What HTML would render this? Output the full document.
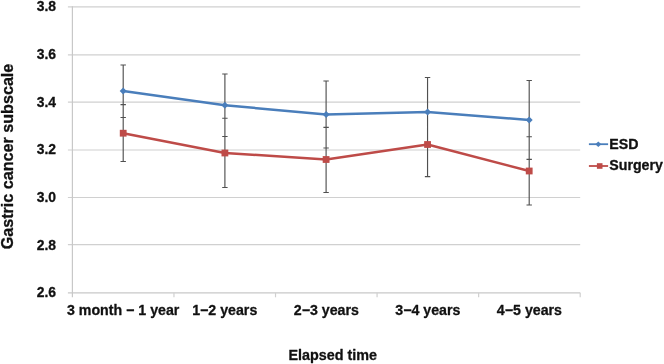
<!DOCTYPE html><html><head><meta charset="utf-8"><title>chart</title><style>html,body{margin:0;padding:0;background:#fff}svg{display:block}text{font-family:"Liberation Sans",Arial,sans-serif;font-weight:bold;fill:#111;stroke:#111;stroke-width:0.3px;stroke-linejoin:round}</style></head><body>
<svg width="664" height="364" viewBox="0 0 664 364">
<rect width="664" height="364" fill="#fff"/>
<g>
<g stroke="#d0d0d0" stroke-width="1.2" fill="none">
<line x1="67.9" y1="6.85" x2="580.2" y2="6.85"/>
<line x1="67.9" y1="54.9" x2="580.2" y2="54.9"/>
<line x1="67.9" y1="102.2" x2="580.2" y2="102.2"/>
<line x1="67.9" y1="150.0" x2="580.2" y2="150.0"/>
<line x1="67.9" y1="197.5" x2="580.2" y2="197.5"/>
<line x1="67.9" y1="244.7" x2="580.2" y2="244.7"/>
<line x1="67.9" y1="292.8" x2="580.2" y2="292.8" stroke="#c8c8c8"/>
<line x1="72.4" y1="6.2" x2="72.4" y2="297.3" stroke="#c8c8c8"/>
<line x1="173.96" y1="292.8" x2="173.96" y2="297.3"/>
<line x1="275.52" y1="292.8" x2="275.52" y2="297.3"/>
<line x1="377.08" y1="292.8" x2="377.08" y2="297.3"/>
<line x1="478.64" y1="292.8" x2="478.64" y2="297.3"/>
<line x1="580.20" y1="292.8" x2="580.20" y2="297.3"/>
</g>
<path d="M123.2 65.0V117.5M120.5 65.0H125.9M120.5 117.5H125.9M224.9 74.0V136.5M222.20000000000002 74.0H227.6M222.20000000000002 136.5H227.6M326.1 81.0V148.0M323.40000000000003 81.0H328.8M323.40000000000003 148.0H328.8M427.55 77.5V146.5M424.85 77.5H430.25M424.85 146.5H430.25M529.2 80.5V159.4M526.5 80.5H531.9000000000001M526.5 159.4H531.9000000000001M123.2 104.6V161.5M120.5 104.6H125.9M120.5 161.5H125.9M224.9 118.2V187.5M222.20000000000002 118.2H227.6M222.20000000000002 187.5H227.6M326.1 127.4V192.5M323.40000000000003 127.4H328.8M323.40000000000003 192.5H328.8M427.55 112.5V176.6M424.85 112.5H430.25M424.85 176.6H430.25M529.2 136.7V205.0M526.5 136.7H531.9000000000001M526.5 205.0H531.9000000000001" fill="none" stroke="#505050" stroke-width="1.15"/>
<polyline points="123.2,90.9 224.9,105.25 326.1,114.5 427.55,112 529.2,120" fill="none" stroke="#4a7ebb" stroke-width="2.5" stroke-linejoin="round"/>
<path d="M119.7 90.9L123.2 87.4L126.7 90.9L123.2 94.4Z" fill="#4a7ebb"/>
<path d="M221.4 105.25L224.9 101.75L228.4 105.25L224.9 108.75Z" fill="#4a7ebb"/>
<path d="M322.6 114.5L326.1 111.0L329.6 114.5L326.1 118.0Z" fill="#4a7ebb"/>
<path d="M424.05 112L427.55 108.5L431.05 112L427.55 115.5Z" fill="#4a7ebb"/>
<path d="M525.7 120L529.2 116.5L532.7 120L529.2 123.5Z" fill="#4a7ebb"/>
<polyline points="123.2,133.2 224.9,153 326.1,159.5 427.55,144.5 529.2,171" fill="none" stroke="#be4b48" stroke-width="2.5" stroke-linejoin="round"/>
<rect x="119.8" y="129.79999999999998" width="6.8" height="6.8" fill="#be4b48"/>
<rect x="221.5" y="149.6" width="6.8" height="6.8" fill="#be4b48"/>
<rect x="322.70000000000005" y="156.1" width="6.8" height="6.8" fill="#be4b48"/>
<rect x="424.15000000000003" y="141.1" width="6.8" height="6.8" fill="#be4b48"/>
<rect x="525.8000000000001" y="167.6" width="6.8" height="6.8" fill="#be4b48"/>
<text transform="translate(56.0,11.3) scale(1,1)" font-size="13.9" text-anchor="end">3.8</text>
<text transform="translate(56.0,58.9) scale(1,1)" font-size="13.9" text-anchor="end">3.6</text>
<text transform="translate(56.0,107.1) scale(1,1)" font-size="13.9" text-anchor="end">3.4</text>
<text transform="translate(56.0,154.3) scale(1,1)" font-size="13.9" text-anchor="end">3.2</text>
<text transform="translate(56.0,202.2) scale(1,1)" font-size="13.9" text-anchor="end">3.0</text>
<text transform="translate(56.0,249.6) scale(1,1)" font-size="13.9" text-anchor="end">2.8</text>
<text transform="translate(56.0,297.1) scale(1,1)" font-size="13.9" text-anchor="end">2.6</text>
<text transform="translate(123.18,315.3) scale(1,1)" font-size="14.2" text-anchor="middle">3 month − 1 year</text>
<text transform="translate(224.74,315.3) scale(1,1)" font-size="14.2" text-anchor="middle">1−2 years</text>
<text transform="translate(326.3,315.3) scale(1,1)" font-size="14.2" text-anchor="middle">2−3 years</text>
<text transform="translate(427.86,315.3) scale(1,1)" font-size="14.2" text-anchor="middle">3−4 years</text>
<text transform="translate(529.42,315.3) scale(1,1)" font-size="14.2" text-anchor="middle">4−5 years</text>
<text transform="translate(332.8,360.2) scale(1,1)" font-size="14.35" text-anchor="middle">Elapsed time</text>
<text transform="translate(13.45,156.5) scale(1.06,1) rotate(-90)" font-size="16.15" text-anchor="middle">Gastric cancer subscale</text>
<line x1="588.9" y1="144.2" x2="608.1" y2="144.2" stroke="#4a7ebb" stroke-width="1.8"/>
<path d="M595.3 144.2L598.3 141.4L601.3 144.2L598.3 147Z" fill="#4a7ebb"/>
<text transform="translate(609.3,149.1) scale(1,1)" font-size="14.2" text-anchor="start">ESD</text>
<line x1="588.9" y1="166" x2="608.1" y2="166" stroke="#be4b48" stroke-width="1.8"/>
<rect x="596.9" y="163.2" width="5.6" height="5.6" fill="#be4b48"/>
<text transform="translate(609.3,169.9) scale(1,1)" font-size="14.2" text-anchor="start">Surgery</text>
</g></svg></body></html>
